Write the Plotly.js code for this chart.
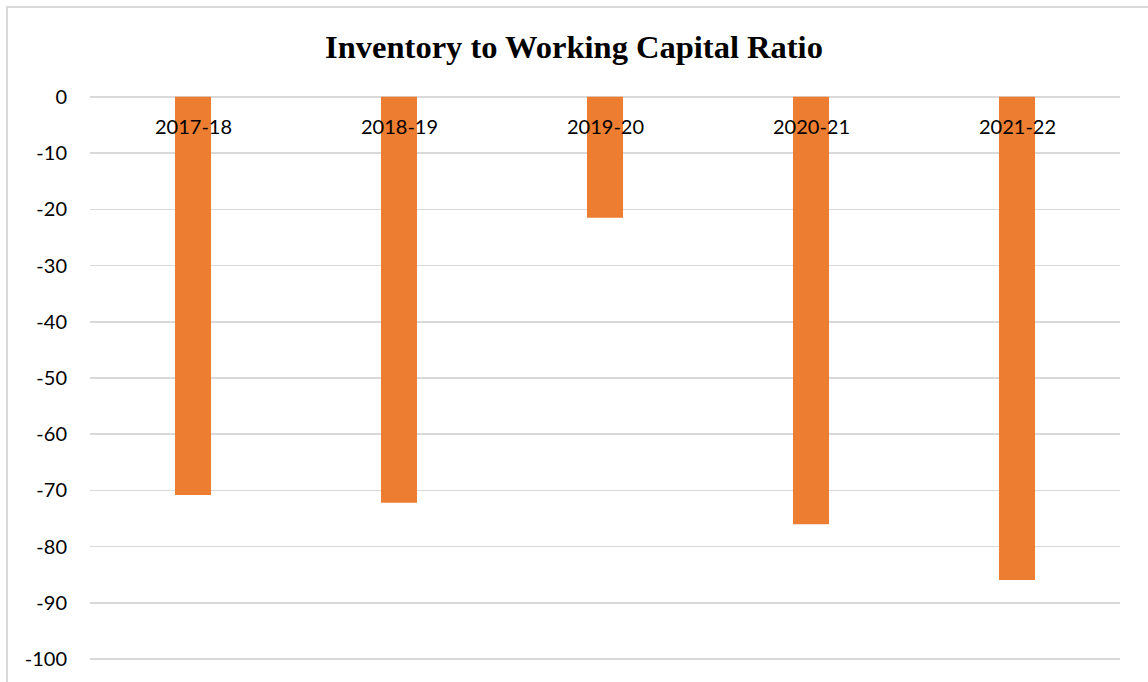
<!DOCTYPE html>
<html>
<head>
<meta charset="utf-8">
<script src="https://cdn.plot.ly/plotly-3.0.1.min.js"></script>
<style>
html, body { margin: 0; padding: 0; background: #fff; overflow: hidden; }
#frame { position: absolute; left: 6px; top: 6px; width: 1300px; height: 900px; border: 2px solid #d9d9d9; pointer-events: none; z-index: 5; }
#chart { position: absolute; left: 0; top: 0; width: 1148px; height: 682px; }
</style>
</head>
<body>
<div id="chart"></div>
<div id="frame"></div>
<script>
const years = ["2017-18", "2018-19", "2019-20", "2020-21", "2021-22"];
const ratios = [-70.8, -72.2, -21.5, -76.0, -85.9];
const yTicks = [0, -10, -20, -30, -40, -50, -60, -70, -80, -90, -100];

const labelFont = { family: 'Lato, "Noto Sans", sans-serif', size: 20, color: '#000000' };

const trace = {
  type: 'bar',
  x: years,
  y: ratios,
  width: 0.175,
  marker: { color: '#ED7D31' },
  hoverinfo: 'x+y'
};

// category labels drawn just under the zero line, over the bars
const catLabels = years.map(function (yr) {
  return {
    x: yr, y: 0, xref: 'x', yref: 'y',
    text: yr, showarrow: false,
    xanchor: 'center', yanchor: 'top', yshift: -15,
    font: labelFont
  };
});

const layout = {
  width: 1148,
  height: 682,
  margin: { l: 90, r: 28, t: 94, b: 20 },
  paper_bgcolor: '#ffffff',
  plot_bgcolor: '#ffffff',
  showlegend: false,
  title: {
    text: '<b>Inventory to Working Capital Ratio</b>',
    font: { family: '"Liberation Serif", "Times New Roman", serif', size: 32.5, color: '#000000' },
    x: 0.5, xanchor: 'center', xref: 'container',
    y: 1 - 47/682, yanchor: 'middle', yref: 'container'
  },
  xaxis: {
    type: 'category',
    categoryorder: 'array',
    categoryarray: years,
    showticklabels: false,
    showgrid: false,
    zeroline: false,
    showline: false,
    ticks: ''
  },
  yaxis: {
    range: [-100.5, 0.5],
    tickvals: yTicks,
    ticktext: yTicks.map(String),
    showgrid: true,
    gridcolor: '#d9d9d9',
    gridwidth: 1.5,
    zeroline: false,
    showline: false,
    ticks: '',
    ticklabelstandoff: 22,
    tickfont: labelFont
  },
  annotations: catLabels,
  bargap: 0.825
};

Plotly.newPlot('chart', [trace], layout, { displayModeBar: false, staticPlot: true });
</script>
</body>
</html>
